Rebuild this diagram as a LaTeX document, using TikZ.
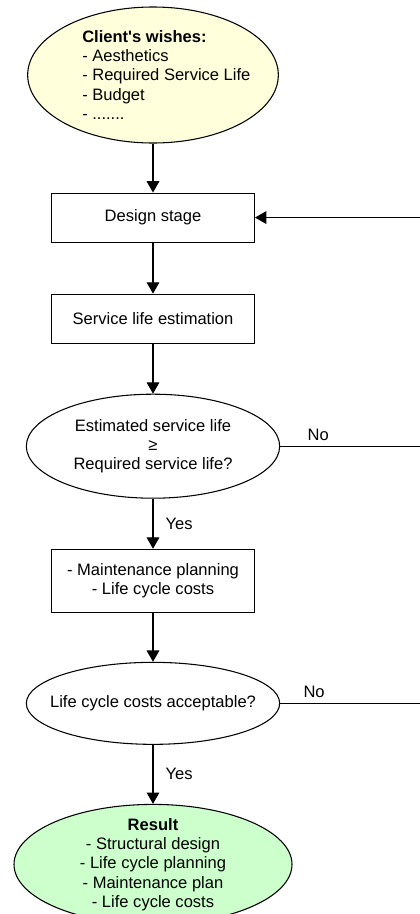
\documentclass[tikz,border=0pt]{standalone}
\usepackage{fontspec}
\setmainfont{Liberation Sans}
\usetikzlibrary{arrows.meta, positioning, shapes.geometric}
\definecolor{wishyellow}{HTML}{FFFFDB}
\definecolor{resultgreen}{HTML}{CCFFCC}

\begin{document}
\begin{tikzpicture}[
    every node/.style={font=\fontsize{12.4}{14.5}\selectfont},
    stage/.style={rectangle, draw=black, line width=0.8pt, minimum width=152.25pt, minimum height=36.75pt, align=center},
    query/.style={ellipse, draw=black, line width=0.8pt, minimum width=190pt, inner sep=-12pt, align=center},
    wish/.style={query, fill=wishyellow, minimum width=188pt, minimum height=102pt},
    outcome/.style={query, fill=resultgreen, minimum width=208.5pt, minimum height=90pt},
    flow/.style={draw, line width=0.8pt, -{Triangle[width=9.5pt, length=8.5pt]}},
    link/.style={draw, line width=0.8pt},
    tag/.style={inner sep=4pt},
]
    \useasboundingbox (0,0) rectangle (314.25pt,-685.5pt);

    % Steps
    \node[wish] (wishes) at (114.75pt,-56.25pt) {};
    \node[anchor=west, inner sep=0pt, align=left] (wishlist) at ([xshift=-53.25pt]wishes.center)
        {\textbf{Client\textquotesingle s wishes:}\\- Aesthetics\\- Required Service Life\\- Budget\\- .......};
    \node[stage, below=36.75pt of wishes] (design) {Design stage};
    \node[stage, below=38.25pt of design] (estimate) {Service life estimation};
    \node[query, minimum height=78pt, below=37.5pt of estimate] (lifecheck)
        {Estimated service life\\≥\\Required service life?};
    \node[stage, minimum height=47.25pt, below=37.5pt of lifecheck] (planning)
        {- Maintenance planning\\- Life cycle costs};
    \node[query, minimum height=61.5pt, below=36.75pt of planning] (costcheck) {Life cycle costs acceptable?};
    \node[outcome, below=44.25pt of costcheck] (result)
        {\textbf{Result}\\- Structural design\\- Life cycle planning\\- Maintenance plan\\- Life cycle costs};

    % Main flow
    \draw[flow] (wishes) -- (design);
    \draw[flow] (design) -- (estimate);
    \draw[flow] (estimate) -- (lifecheck);
    \draw[flow] (lifecheck) -- node[tag, right=5pt] {Yes} (planning);
    \draw[flow] (planning) -- (costcheck);
    \draw[flow] (costcheck) -- node[tag, right=5pt] {Yes} (result);

    % Back to design
    \coordinate (rim) at (316pt,0);
    \draw[link] (lifecheck.east) -- node[tag, above, pos=0.27] {No} (lifecheck.east -| rim);
    \draw[flow] (costcheck.east) -- node[tag, above, pos=0.24] {No} (costcheck.east -| rim) |- (design.east);
\end{tikzpicture}
\end{document}
